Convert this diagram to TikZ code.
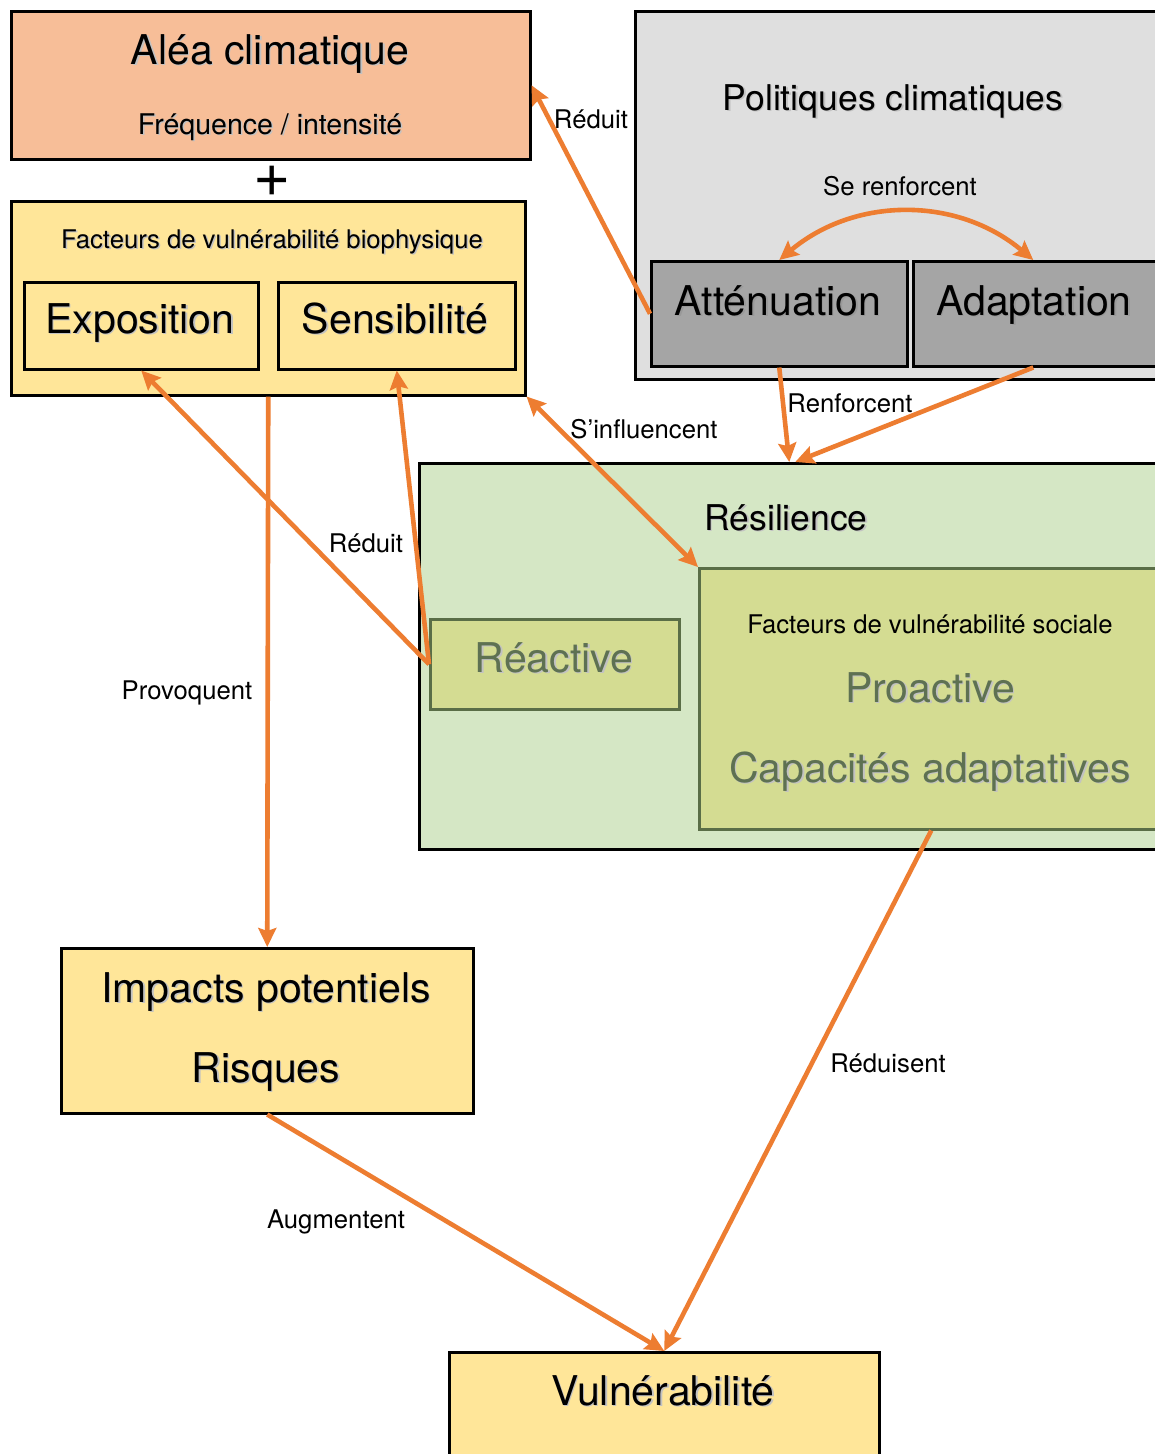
\documentclass[tikz,border=0pt]{standalone}
\usepackage{fontspec}
\setmainfont{TeX Gyre Heros}
\usetikzlibrary{arrows.meta}

\definecolor{hazard}{HTML}{F7BE98}
\definecolor{sand}{HTML}{FFE699}
\definecolor{policy}{HTML}{DFDFDF}
\definecolor{lever}{HTML}{A5A5A5}
\definecolor{resil}{HTML}{D5E7C5}
\definecolor{olive}{HTML}{D4DC92}
\definecolor{leaf}{HTML}{5E7152}
\definecolor{leafline}{HTML}{5A6E47}
\definecolor{flow}{HTML}{ED7D31}

% text with a soft drop shadow
\newcommand\shd[2][black!24]{\leavevmode\rlap{\kern1.5pt\raisebox{-1.5pt}{\textcolor{#1}{#2}}}#2}
\newcommand\hugefont{\fontsize{41}{46}\selectfont}
\newcommand\titlefont{\fontsize{35.5}{40}\selectfont}
\newcommand\midfont{\fontsize{28.5}{32}\selectfont}
\newcommand\labelfont{\fontsize{25.7}{30}\selectfont}

\tikzset{
  box/.style={draw=black, line width=2.5pt, inner sep=0pt, anchor=north west},
  greenbox/.style={draw=leafline, line width=2.5pt, inner sep=0pt, anchor=north west, fill=olive},
  txt/.style={inner sep=0pt, anchor=base},
  lbl/.style={inner sep=0pt, anchor=center, font=\labelfont},
  link/.style={draw=flow, line width=4.6pt, -{Stealth[length=19pt, width=18pt, inset=3pt]}},
  twoway/.style={draw=flow, line width=4.6pt, {Stealth[length=19pt, width=18pt, inset=3pt]}-{Stealth[length=19pt, width=18pt, inset=3pt]}},
}

\begin{document}
\begin{tikzpicture}[x=1pt, y=-1pt]
\useasboundingbox (0,0) rectangle (1155,1454);
\clip (0,0) rectangle (1155,1454);
\fill[white] (0,0) rectangle (1155,1454);

% hazard
\node[box, fill=hazard, minimum width=519pt, minimum height=148pt] (alea) at (10,10) {};
\node[txt, font=\hugefont] at (270,64) {\shd{Aléa climatique}};
\node[txt, font=\midfont] at (270,134) {\shd{Fréquence / intensité}};
\node[inner sep=0pt, anchor=center, font=\fontsize{64}{64}\selectfont] (plus) at (272,181) {+};

% biophysical factors
\node[box, fill=sand, minimum width=514pt, minimum height=194pt] (bio) at (10,200) {};
\node[txt, font=\labelfont] at (272,248) {\shd{Facteurs de vulnérabilité biophysique}};
\node[box, fill=sand, minimum width=234pt, minimum height=87pt] (expo) at (23,281) {};
\node[txt, font=\hugefont] at (140,333) {\shd{Exposition}};
\node[box, fill=sand, minimum width=237pt, minimum height=87pt] (sens) at (277,281) {};
\node[txt, font=\hugefont] at (395,333) {\shd{Sensibilité}};

% climate policies
\node[box, fill=policy, minimum width=540pt, minimum height=368pt] (pol) at (634,10) {};
\node[txt, font=\titlefont] at (893,110) {\shd{Politiques climatiques}};
\node[box, fill=lever, minimum width=256pt, minimum height=105pt] (aten) at (650,260) {};
\node[txt, font=\hugefont] at (778,315) {\shd[black!40]{Atténuation}};
\node[box, fill=lever, minimum width=248pt, minimum height=105pt] (adapt) at (912,260) {};
\node[txt, font=\hugefont] at (1034,315) {\shd[black!40]{Adaptation}};

% resilience
\node[box, fill=resil, minimum width=744pt, minimum height=386pt] (res) at (418,462) {};
\node[txt, font=\titlefont] at (786,530) {\shd{Résilience}};
\node[greenbox, minimum width=249pt, minimum height=90pt] (reac) at (429,618) {};
\node[txt, font=\hugefont, text=leaf] at (554,672) {\shd{Réactive}};
\node[greenbox, minimum width=464pt, minimum height=261pt] (soc) at (698,567) {};
\node[txt, font=\labelfont] at (930,633) {Facteurs de vulnérabilité sociale};
\node[txt, font=\hugefont, text=leaf] at (930,702) {\shd{Proactive}};
\node[txt, font=\hugefont, text=leaf] at (930,782) {\shd{Capacités adaptatives}};

% impacts
\node[box, fill=sand, minimum width=412pt, minimum height=165pt] (imp) at (60,947) {};
\node[txt, font=\hugefont] at (266,1002) {\shd{Impacts potentiels}};
\node[txt, font=\hugefont] at (266,1082) {\shd{Risques}};

% vulnerability
\node[box, fill=sand, minimum width=430pt, minimum height=130pt] (vul) at (448,1351) {};
\node[txt, font=\hugefont] at (663,1405) {\shd{Vulnérabilité}};

% relations
\draw[link] (aten.west) -- (alea.east);
\node[lbl] at (591,119) {Réduit};

\draw[twoway] (aten.north) to[bend left=40] ([xshift=-4pt]adapt.north);
\node[lbl] at (900,186) {Se renforcent};

\draw[link] (aten.south) -- ([xshift=-2pt]res.north);
\draw[link] ([xshift=-4pt]adapt.south) -- ([xshift=4pt]res.north);
\node[lbl] at (850,403) {Renforcent};

\draw[twoway] (bio.south east) -- (soc.north west);
\node[lbl] at (644,429) {S’influencent};

\draw[link] (bio.south) -- (imp.north);
\node[lbl] at (187,693) {Provoquent};

\draw[link] (reac.west) -- (expo.south);
\draw[link] (reac.west) -- (sens.south);
\node[lbl] at (366,543) {Réduit};

\draw[link] (soc.south) -- (vul.north);
\node[lbl] at (888,1063) {Réduisent};

\draw[link] (imp.south) -- (vul.north);
\node[lbl] at (336,1222) {Augmentent};
\end{tikzpicture}
\end{document}
